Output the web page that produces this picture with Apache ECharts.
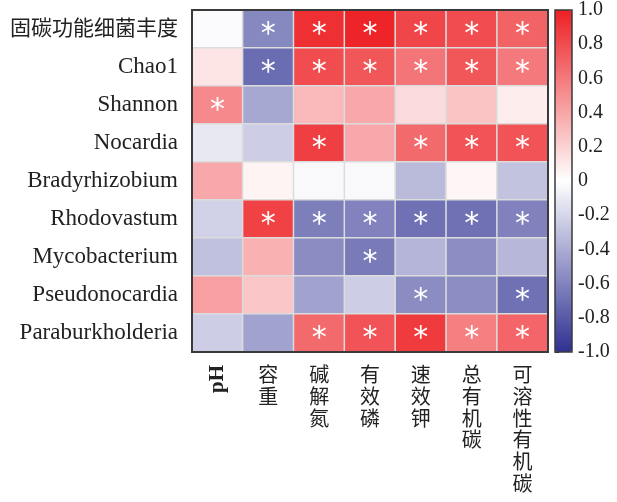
<!DOCTYPE html>
<html><head><meta charset="utf-8">
<script src="https://cdn.jsdelivr.net/npm/echarts@6/dist/echarts.min.js"></script>
<style>html,body{margin:0;padding:0;background:#fff}#c{width:617px;height:502px}</style>
</head><body><div id="c"></div>
<script>
const columns = ['pH','容重','碱解氮','有效磷','速效钾','总有机碳','可溶性有机碳'];
const rows = ['固碳功能细菌丰度','Chao1','Shannon','Nocardia','Bradyrhizobium','Rhodovastum','Mycobacterium','Pseudonocardia','Paraburkholderia'];
// correlation values per row (columns order above)
const rAbundance       = [-0.02, -0.58, 0.93, 0.98, 0.83, 0.80, 0.70];
const rChao1           = [ 0.12, -0.71, 0.80, 0.76, 0.62, 0.76, 0.60];
const rShannon         = [ 0.53, -0.42, 0.32, 0.39, 0.16, 0.27, 0.08];
const rNocardia        = [-0.11, -0.24, 0.86, 0.39, 0.67, 0.77, 0.77];
const rBradyrhizobium  = [ 0.39,  0.05,-0.03,-0.03,-0.33, 0.04,-0.29];
const rRhodovastum     = [-0.22,  0.85,-0.62,-0.60,-0.69,-0.69,-0.61];
const rMycobacterium   = [-0.30,  0.35,-0.56,-0.64,-0.36,-0.55,-0.35];
const rPseudonocardia  = [ 0.43,  0.26,-0.45,-0.24,-0.56,-0.55,-0.69];
const rParaburkholderia= [-0.24, -0.45, 0.67, 0.77, 0.88, 0.57, 0.69];
// significance flags (1 = *)
const sAbundance       = [0,1,1,1,1,1,1];
const sChao1           = [0,1,1,1,1,1,1];
const sShannon         = [1,0,0,0,0,0,0];
const sNocardia        = [0,0,1,0,1,1,1];
const sBradyrhizobium  = [0,0,0,0,0,0,0];
const sRhodovastum     = [0,1,1,1,1,1,1];
const sMycobacterium   = [0,0,0,1,0,0,0];
const sPseudonocardia  = [0,0,0,0,1,0,1];
const sParaburkholderia= [0,0,1,1,1,1,1];
const colorTicks = [-1,-0.8,-0.6,-0.4,-0.2,0,0.2,0.4,0.6,0.8,1];

const values = [rAbundance,rChao1,rShannon,rNocardia,rBradyrhizobium,rRhodovastum,rMycobacterium,rPseudonocardia,rParaburkholderia];
const sigs = [sAbundance,sChao1,sShannon,sNocardia,sBradyrhizobium,sRhodovastum,sMycobacterium,sPseudonocardia,sParaburkholderia];
const data = [];
values.forEach((row, ri) => row.forEach((v, ci) => data.push([ci, ri, v, sigs[ri][ci]])));

const serif = "'Liberation Serif','Noto Sans CJK SC',serif";
const isCJK = (s) => /[\u4e00-\u9fff]/.test(s);
const chart = echarts.init(document.getElementById('c'), null, {renderer:'canvas'});
chart.setOption({
  animation:false,
  backgroundColor:'#fff',
  grid:[
    {left:192, top:10, width:356, height:342, show:true, z:5, borderColor:'#3a3a3a', borderWidth:2, backgroundColor:'transparent'},
    {left:555, top:10, width:17, height:342, show:true, z:5, borderColor:'#3a3a3a', borderWidth:1.5, backgroundColor:'transparent'}
  ],
  xAxis:[
    {type:'category', gridIndex:0, data:columns, position:'bottom',
     axisLine:{show:false}, axisTick:{show:false}, splitLine:{show:false},
     axisLabel:{margin:14, fontSize:20, lineHeight:21.7, color:'#222', fontFamily:serif, verticalAlign:'top',
       formatter:(v)=> v==='pH' ? '' : v.split('').join('\n')}},
    {type:'category', gridIndex:0, data:columns, position:'bottom',
     axisLine:{show:false}, axisTick:{show:false}, splitLine:{show:false},
     axisLabel:{margin:13, rotate:90, fontSize:21, color:'#222', fontFamily:serif, fontWeight:'bold',
       formatter:(v)=> v==='pH' ? v : ''}},
    {type:'value', gridIndex:1, show:false, min:0, max:1}
  ],
  yAxis:[
    {type:'category', gridIndex:0, data:rows, inverse:true,
     axisLine:{show:false}, axisTick:{show:false}, splitLine:{show:false},
     axisLabel:{margin:14, fontSize:23, color:'#222', fontFamily:serif,
       formatter:(v)=> isCJK(v) ? '{cn|' + v + '}' : v,
       rich:{cn:{fontSize:21, fontFamily:serif, color:'#222'}}}},
    {type:'value', gridIndex:1, min:-1, max:1, interval:0.2, position:'right',
     axisLine:{show:false}, axisTick:{show:true, length:4, lineStyle:{color:'#333'}},
     splitLine:{show:false},
     axisLabel:{margin:6, fontSize:20, color:'#222', fontFamily:serif,
       formatter:(v)=> Math.abs(v)<1e-9 ? '0' : v.toFixed(1)}}
  ],
  visualMap:{
    type:'continuous', min:-1, max:1, dimension:2, seriesIndex:0,
    calculable:false, show:true, orient:'vertical', left:555, top:10,
    itemWidth:17, itemHeight:342, padding:0, text:null, showLabel:false,
    inRange:{color:['#2E3192','#ffffff','#ED2024']}
  },
  series:[{
    type:'heatmap', xAxisIndex:0, yAxisIndex:0, data:data,
    itemStyle:{borderColor:'#dcdcdc', borderWidth:1.5},
    label:{show:true, color:'#fff', fontSize:30, fontFamily:"'DejaVu Sans',sans-serif", offset:[0,6],
      formatter:(p)=> p.data[3] ? '*' : ''},
    emphasis:{disabled:true}
  }]
});
</script></body></html>
